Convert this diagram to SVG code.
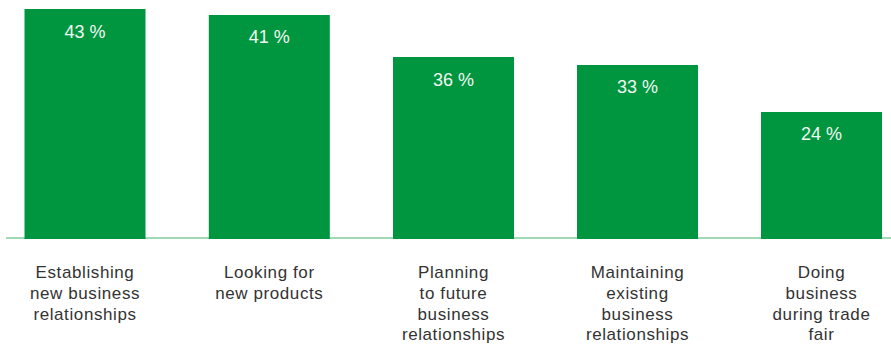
<svg xmlns="http://www.w3.org/2000/svg" width="891" height="344" viewBox="0 0 891 344">
<style>
.bar{fill:#009640}
.val{font-family:"Liberation Sans",Arial,sans-serif;font-size:18px;fill:#f2f7f2;text-anchor:middle}
.lbl{font-family:"Liberation Sans",Arial,sans-serif;font-size:17px;fill:#333333;text-anchor:middle;letter-spacing:0.6px}
</style>
<rect width="891" height="344" fill="#ffffff"/>
<g id="connectors">
<line x1="6" y1="238" x2="891" y2="238" stroke="#82cc9e" stroke-width="1.5"/>
</g>
<g id="bar1">
<rect class="bar" x="24.5" y="9" width="121" height="230"/>
<text class="val" x="85" y="38">43 %</text>
<text class="lbl"><tspan x="85" y="278">Establishing</tspan><tspan x="85" y="299">new business</tspan><tspan x="85" y="320">relationships</tspan></text>
</g>
<g id="bar2">
<rect class="bar" x="208.8" y="15" width="121" height="224"/>
<text class="val" x="269.3" y="43">41 %</text>
<text class="lbl"><tspan x="269.3" y="278">Looking for</tspan><tspan x="269.3" y="299">new products</tspan></text>
</g>
<g id="bar3">
<rect class="bar" x="393" y="57" width="121" height="182"/>
<text class="val" x="453.5" y="86">36 %</text>
<text class="lbl"><tspan x="453.5" y="278">Planning</tspan><tspan x="453.5" y="299">to future</tspan><tspan x="453.5" y="320">business</tspan><tspan x="453.5" y="340">relationships</tspan></text>
</g>
<g id="bar4">
<rect class="bar" x="577" y="65" width="121" height="174"/>
<text class="val" x="637.5" y="93">33 %</text>
<text class="lbl"><tspan x="637.5" y="278">Maintaining</tspan><tspan x="637.5" y="299">existing</tspan><tspan x="637.5" y="320">business</tspan><tspan x="637.5" y="340">relationships</tspan></text>
</g>
<g id="bar5">
<rect class="bar" x="761" y="112" width="121" height="127"/>
<text class="val" x="821.5" y="140">24 %</text>
<text class="lbl"><tspan x="821.5" y="278">Doing</tspan><tspan x="821.5" y="299">business</tspan><tspan x="821.5" y="320">during trade</tspan><tspan x="821.5" y="340">fair</tspan></text>
</g>
</svg>
